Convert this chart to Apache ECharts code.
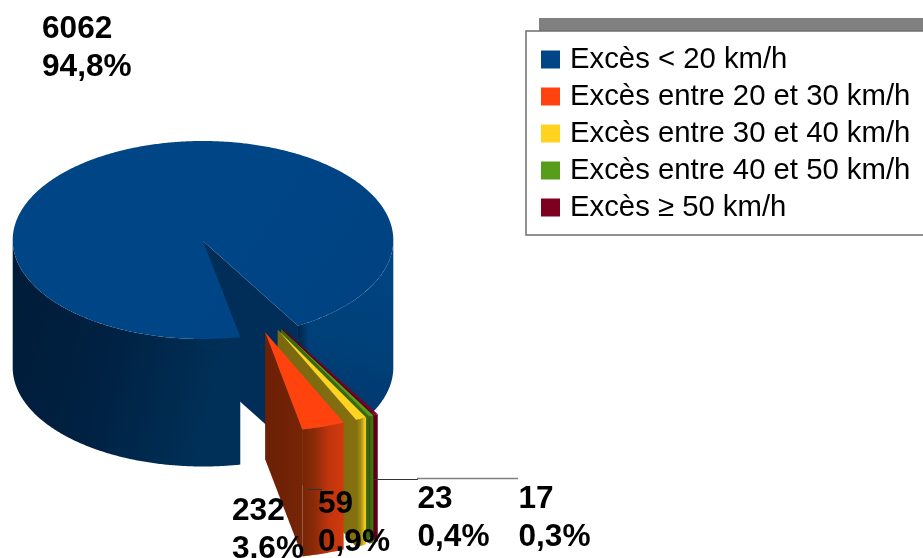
<!DOCTYPE html>
<html><head><meta charset="utf-8">
<style>html,body{margin:0;padding:0;background:#fff}#c{width:923px;height:558px}</style>
<script src="https://cdn.jsdelivr.net/npm/echarts@6/dist/echarts.min.js"></script>
</head><body><div id="c"></div>
<script>
// ---- data
const categories = ['Excès < 20 km/h','Excès entre 20 et 30 km/h','Excès entre 30 et 40 km/h','Excès entre 40 et 50 km/h','Excès ≥ 50 km/h'];
const values = [6062, 232, 59, 23, 17];
const percents = ['94,8%','3,6%','0,9%','0,4%','0,3%'];
// ---- styles
const topColors = ['#004586','#ff420e','#ffd320','#579d1c','#7e0021'];
const radialFrom = ['#002e59','#6c2005','#7a6710','#39680f','#5a0016'];
const radialTo = ['#002e59','#762406','#84700f','#39680f','#5a0016'];
const outerStops = [null,
  [[0,'#762406'],[0.3,'#8c2b08'],[0.65,'#c2340c'],[1,'#d03a0d']],
  [[0,'#84700f'],[0.45,'#a08a14'],[0.85,'#f0c61e'],[1,'#f4ca1e']],
  [[0,'#39680f'],[1,'#437a12']],
  [[0,'#5a0016'],[1,'#6a001b']]];
// ---- layout
const cx = 203, cy = 240, rx = 190.3, ry = 99, depth = 127.5, sliceDepth = 127;
const startDeg = 11.3, explode = 188;
const labelBoxes = [[42,10],[232,492],[318,485],[417.5,480],[518.5,480]];
const total = values.reduce((a,b)=>a+b,0);
const rad = d => d*Math.PI/180;
const pt = (deg, ox, oy, dy) => [cx+ox+rx*Math.sin(rad(deg)), cy+oy+ry*Math.cos(rad(deg))+(dy||0)];
function arc(a,b,ox,oy,dy){const n=Math.max(2,Math.ceil(Math.abs(b-a)*2));const out=[];
  for(let i=0;i<=n;i++)out.push(pt(a+(b-a)*i/n,ox,oy,dy));return out;}
const grad=(x,y,x2,y2,stops)=>new echarts.graphic.LinearGradient(x,y,x2,y2,stops.map(c=>({offset:c[0],color:c[1]})));
const poly=(points,fill)=>({type:'polygon',shape:{points},style:{fill,stroke:null}});

// angular extent of each slice, from the values
const spans=[];let acc=startDeg;
for(let i=1;i<values.length;i++){const w=values[i]/total*360;spans[i]=[acc,acc+w];acc+=w;}
spans[0]=[acc,startDeg+360];

function drawBlue(){
  const [a,b]=spans[0];
  const apex=[cx,cy+1];const apexB=[cx,cy+1+depth];
  const wallEnd=pt(a,0,0);
  return {type:'group',children:[
    poly(arc(a,90,0,0).concat(arc(90,a,0,0,depth)),grad(0.9,0,0.3,1,[[0,'#004584'],[0.5,'#004079'],[1,'#003366']])),
    poly(arc(a,a+4,0,0).concat(arc(a+4,a,0,0,depth)),grad(0,0,1,0,[[0,'rgba(0,28,56,0.75)'],[1,'rgba(0,28,56,0)']])),
    poly([apex,wallEnd,[wallEnd[0],wallEnd[1]+depth],apexB],'#002e59'),
    poly(arc(b,270,0,0).concat(arc(270,b,0,0,depth)),grad(0,0,1,0.25,[[0,'#001c38'],[0.5,'#002142'],[1,'#003058']])),
    poly([apex].concat(arc(a,b,0,0)),grad(0.6,0.5,1,1,[[0,'#004586'],[1,'#004180']]))
  ]};
}
function drawSlice(i){
  const [a,b]=spans[i];const mid=(a+b)/2;
  const first=(spans[1][0]+spans[1][1])/2;
  const dirDeg=19.3+0.5*(mid-first);
  const ox=explode*Math.sin(rad(dirDeg)),oy=explode*ry/rx*Math.cos(rad(dirDeg));
  const apex=[cx+ox,cy+oy];const p=pt(a,ox,oy);
  return {type:'group',children:[
    poly([apex,p,[p[0],p[1]+sliceDepth],[apex[0],apex[1]+sliceDepth]],grad(0,0,1,0,[[0,radialFrom[i]],[1,radialTo[i]]])),
    poly(arc(a,b,ox,oy).concat(arc(b,a,ox,oy,sliceDepth)),grad(0,0,1,0,outerStops[i])),
    poly([apex].concat(arc(a,b,ox,oy)),topColors[i])
  ]};
}
const series=categories.map((name,i)=>({
  name,type:'custom',coordinateSystem:'none',
  z:i===0?2:8-i,silent:true,animation:false,
  itemStyle:{color:topColors[i]},
  data:[values[i]],
  renderItem:()=>i===0?drawBlue():drawSlice(i)
}));
series.push({
  name:'labels',type:'custom',coordinateSystem:'none',z:20,silent:true,animation:false,
  data:values,
  renderItem:(p,api)=>{
    const i=p.dataIndex;
    return {type:'text',x:labelBoxes[i][0],y:labelBoxes[i][1],style:{text:api.value(0)+'\n'+percents[i],
      fill:'#000',font:'bold 31.6px "Liberation Sans"',lineHeight:38,textAlign:'left',textVerticalAlign:'top'}};
  }
});
const leaderColors=['#333','#808080','#333'], leaderWidths=[1,1.5,1];
series.push({
  name:'leaders',type:'custom',coordinateSystem:'none',z:19,silent:true,animation:false,
  data:[[373,479.5,418],[417,478.5,518],[308,489.5,322]],
  renderItem:(p,api)=>({type:'line',shape:{x1:api.value(0),y1:api.value(1),x2:api.value(2),y2:api.value(1)},
    style:{stroke:leaderColors[p.dataIndex],lineWidth:leaderWidths[p.dataIndex]}})
});
const chart=echarts.init(document.getElementById('c'),null,{renderer:'canvas'});
chart.setOption({
  animation:false,backgroundColor:'#fff',
  graphic:[{type:'rect',shape:{x:539,y:18,width:384,height:13},style:{fill:'#808080'}}],
  legend:{data:categories,orient:'vertical',left:526,top:31,icon:'rect',itemWidth:19,itemHeight:18,itemGap:8,
    padding:[14,60,13,15],selectedMode:false,backgroundColor:'#fff',borderColor:'#6e6e6e',borderWidth:1.5,
    textStyle:{fontFamily:'"Liberation Sans"',fontSize:29.3,color:'#000',padding:[0,0,0,5]}},
  series
});
</script></body></html>
